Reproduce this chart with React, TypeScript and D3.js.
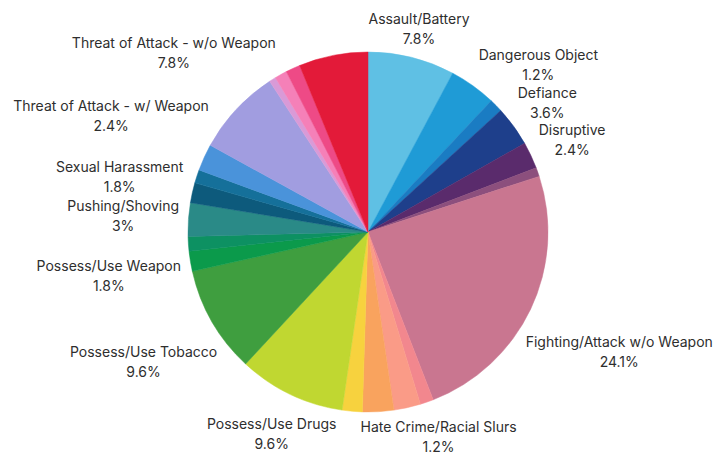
import React from "react";
import * as d3 from "d3";

// Slices clockwise from 12 o'clock (alphabetical). Empty names = slices whose labels are not shown.
const categories = [
  "Assault/Battery",
  "",
  "Dangerous Object",
  "Defiance",
  "Disruptive",
  "",
  "Fighting/Attack w/o Weapon",
  "Hate Crime/Racial Slurs",
  "",
  "",
  "",
  "Possess/Use Drugs",
  "Possess/Use Tobacco",
  "Possess/Use Weapon",
  "",
  "Pushing/Shoving",
  "Sexual Harassment",
  "",
  "Threat of Attack - w/ Weapon",
  "Threat of Attack - w/o Weapon",
  "",
  "",
  "",
  "",
];

const percents = [
  7.8, 4.2, 1.2, 3.6, 2.4, 0.8, 24.1, 1.2, 2.4, 2.8, 1.8, 9.6, 9.6, 1.8, 1.3,
  3, 1.8, 1.2, 2.4, 7.8, 0.6, 1.1, 1.3, 6.2,
];

const colors = [
  "#5fc0e4",
  "#1f9bd6",
  "#1a7cc3",
  "#1e3f8b",
  "#5a2b6c",
  "#8c4f7d",
  "#c97690",
  "#f2878e",
  "#fa9b87",
  "#f9a35e",
  "#f7d23e",
  "#c0d731",
  "#3f9e3f",
  "#0b9a4b",
  "#0d9162",
  "#2a8a87",
  "#0d5a7c",
  "#15709a",
  "#4a93da",
  "#a19de0",
  "#d99ad7",
  "#f580b8",
  "#ee4a86",
  "#e31a39",
];

const W = 728;
const H = 466;
const CX = 368;
const CY = 232;
const R = 180;
const GAP = 9;
const MIN_SEP = 37;
const FONT = "14px Inter, 'Noto Sans', sans-serif";

let ctx: CanvasRenderingContext2D | null = null;
function measure(t: string): number {
  if (!ctx) {
    const c = document.createElement("canvas");
    ctx = c.getContext("2d");
  }
  if (!ctx) return t.length * 7;
  ctx.font = FONT;
  return ctx.measureText(t).width;
}

type Lbl = { name: string; pct: string; x: number; y: number; w: number; key: number };

export default function App() {
  const pie = d3
    .pie<number>()
    .sort(null)
    .value((d) => d)
    .startAngle(0)
    .endAngle(2 * Math.PI);
  const arcs = pie(percents);
  const arcGen = d3.arc<d3.PieArcDatum<number>>().innerRadius(0).outerRadius(R);

  const boxH = 30;
  const labels = arcs
    .map((a, i) => {
      const name = categories[i];
      if (!name) return null;
      const pct = `${percents[i]}%`;
      const mid = (a.startAngle + a.endAngle) / 2;
      const dx = Math.sin(mid);
      const dy = -Math.cos(mid);
      const w = Math.max(measure(name), measure(pct));
      const hw = w / 2;
      const hh = boxH / 2;
      const distAt = (d: number) => {
        const nx = Math.max(0, Math.abs(d * dx) - hw);
        const ny = Math.max(0, Math.abs(d * dy) - hh);
        return Math.hypot(nx, ny);
      };
      let lo = 0;
      let hi = 600;
      for (let k = 0; k < 50; k++) {
        const m = (lo + hi) / 2;
        if (distAt(m) < R + GAP) lo = m;
        else hi = m;
      }
      const d = (lo + hi) / 2;
      return { name, pct, x: CX + d * dx, y: CY + d * dy, w, key: i };
    })
    .filter((l) => l !== null) as Lbl[];

  // simple collision pass: push overlapping labels on the same side apart vertically
  const sides = [labels.filter((l) => l.x >= CX), labels.filter((l) => l.x < CX)];
  sides.forEach((side) => {
    const sorted = [...side].sort((a, b) => a.y - b.y);
    for (let k = 1; k < sorted.length; k++) {
      const p = sorted[k - 1];
      const c = sorted[k];
      const xOverlap = Math.abs(p.x - c.x) < (p.w + c.w) / 2;
      if (xOverlap && c.y - p.y < MIN_SEP && c.y < CY) {
        c.y = p.y + MIN_SEP;
      }
    }
  });

  return (
    <svg
      width={W}
      height={H}
      viewBox={`0 0 ${W} ${H}`}
      style={{ position: "absolute", left: 0, top: 0, display: "block", background: "#ffffff" }}
    >
      <g transform={`translate(${CX},${CY})`}>
        {arcs.map((a, i) => (
          <path key={i} d={arcGen(a) || ""} fill={colors[i]} stroke={colors[i]} strokeWidth={0.5} />
        ))}
      </g>
      <g style={{ font: FONT }} fill="#2e2e2e" textAnchor="middle">
        {labels.map((l) => (
          <g key={l.key}>
            <text x={l.x} y={l.y - 4}>{l.name}</text>
            <text x={l.x} y={l.y + 16}>{l.pct}</text>
          </g>
        ))}
      </g>
    </svg>
  );
}
